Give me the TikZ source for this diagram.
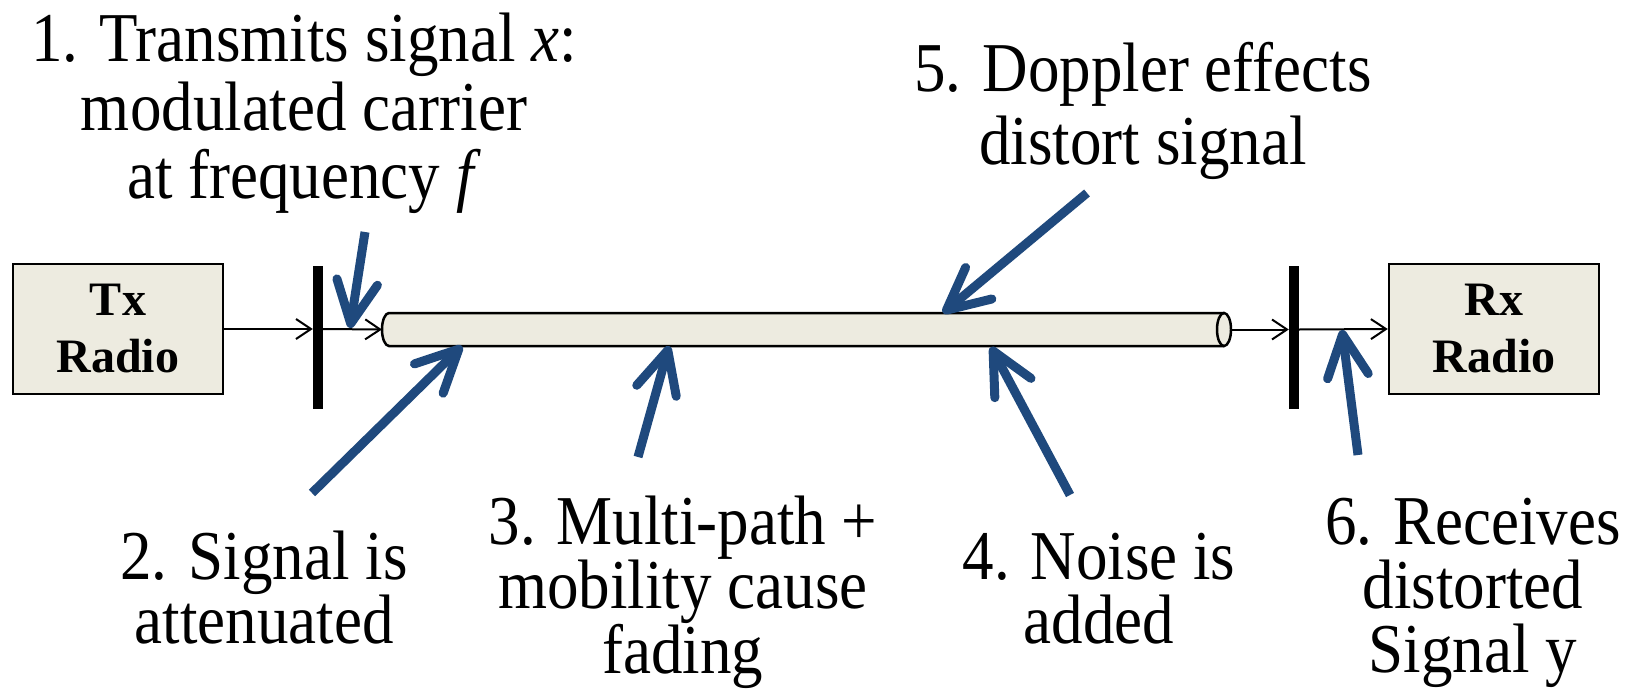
\documentclass[tikz,border=0pt]{standalone}
\usepackage{fontspec}
\setmainfont{Liberation Serif}
\newfontfamily\notefont[FakeStretch=0.90]{Liberation Serif}
\usetikzlibrary{arrows.meta}
\definecolor{boxfill}{RGB}{237,235,224}
\definecolor{callout}{RGB}{31,73,125}
% centred lines whose baseline is the first line
\newcommand\stacklines[1]{\vtop{\halign{\hfil##\hfil\cr#1\crcr}}}
\begin{document}
\begin{tikzpicture}[x=1pt,y=-1pt,
  radio/.style={draw=black, line width=2.5pt, fill=boxfill,
    minimum width=210pt, minimum height=130pt, inner sep=0pt,
    align=center, font=\fontsize{48}{57}\selectfont\bfseries},
  antenna/.style={fill=black, minimum width=10pt, minimum height=143pt, inner sep=0pt},
  sig/.style={line width=2pt, -{Straight Barb[length=15pt,width=20pt]}},
  cyl/.style={draw=black, line width=2.5pt, fill=boxfill},
  note/.style={anchor=base, inner sep=0pt},
  callarrow/.style={draw=callout, line width=9pt,
    -{Straight Barb[round,length=42pt,width=41pt]}}
]
\useasboundingbox (0,0) rectangle (1645,693);

% radios and antennas
\node[radio] (tx) at (118,329) {Tx\\Radio};
\node[radio] (rx) at (1494,329) {Rx\\Radio};
\node[antenna] (ant1) at (318,337.5) {};
\node[antenna] (ant2) at (1294,337) {};

% channel drawn as a cylinder
\coordinate (cylW) at (382,329.5);
\coordinate (cylE) at (1231,329.5);
\path[cyl] (1224,313) -- (389,313)
  arc[start angle=270, end angle=90, x radius=7, y radius=16.5] -- (1224,346);
\path[cyl] (1224,329.5) ellipse[x radius=7, y radius=16.5];

% signal path
\draw[sig] (tx.east) -- (tx.east -| ant1.west);
\draw[sig] (tx.east -| ant1.east) -- (cylW);
\draw[sig] (cylE) -- (cylE -| ant2.west);
\draw[sig] (cylE -| ant2.east) -- (rx.west);

% annotations
\node[note, font={\notefont\fontsize{70}{68}\selectfont}] (n1) at (304,62)
  {\stacklines{1. Transmits signal \textit{x}:\cr modulated carrier\cr at frequency \textit{f}}};
\node[note, font={\notefont\fontsize{70}{72}\selectfont}] (n5) at (1143,92)
  {\stacklines{5. Doppler effects\cr distort signal}};
\node[note, font={\notefont\fontsize{70}{64}\selectfont}] (n2) at (264,579)
  {\stacklines{2. Signal is\cr attenuated}};
\node[note, font={\notefont\fontsize{70}{64}\selectfont}] (n3) at (683,544)
  {\stacklines{3. Multi-path +\cr mobility cause\cr fading}};
\node[note, font={\notefont\fontsize{70}{64}\selectfont}] (n4) at (1099,579)
  {\stacklines{4. Noise is\cr added}};
\node[note, font={\notefont\fontsize{70}{64}\selectfont}] (n6) at (1473,544)
  {\stacklines{6. Receives\cr distorted\cr Signal y}};

% callout arrows
\coordinate (c1s) at (365,232);  \coordinate (c1e) at (350,328);
\coordinate (c2s) at (312,493);  \coordinate (c2e) at (462,346);
\coordinate (c3s) at (638,457);  \coordinate (c3e) at (669,346);
\coordinate (c4s) at (1070,495); \coordinate (c4e) at (991,347);
\coordinate (c5s) at (1087,193); \coordinate (c5e) at (943,313);
\coordinate (c6s) at (1358,455); \coordinate (c6e) at (1342,330);
\draw[callarrow] (c1s) -- (c1e);
\draw[callarrow] (c2s) -- (c2e);
\draw[callarrow] (c3s) -- (c3e);
\draw[callarrow] (c4s) -- (c4e);
\draw[callarrow] (c5s) -- (c5e);
\draw[callarrow] (c6s) -- (c6e);
\end{tikzpicture}
\end{document}
